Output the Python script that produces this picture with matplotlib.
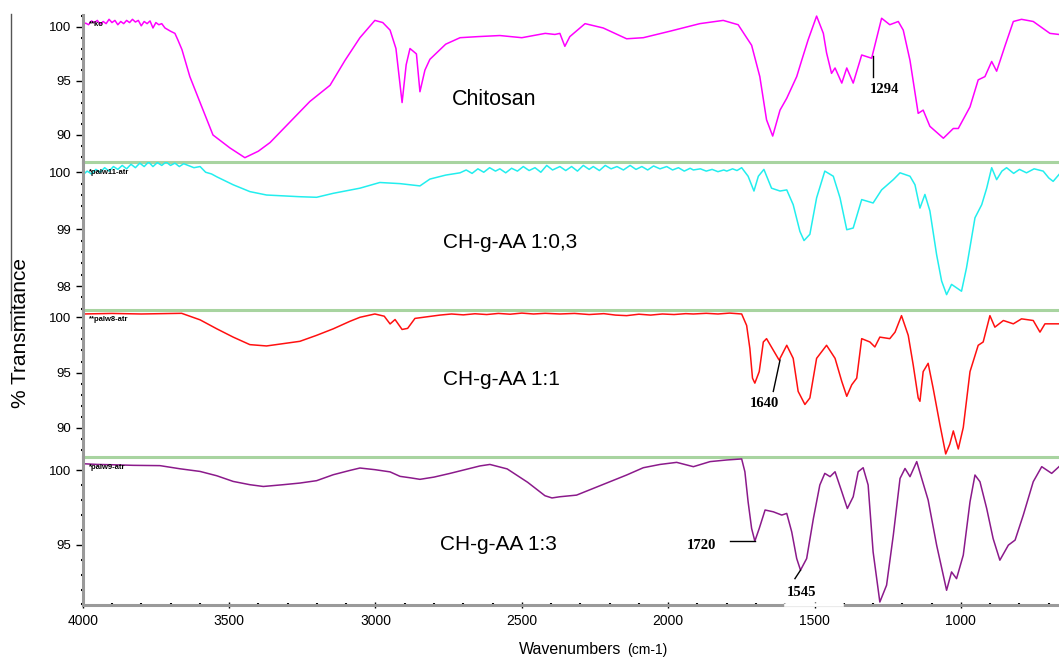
import matplotlib.pyplot as plt
from matplotlib.ticker import MultipleLocator

plt.rcParams['font.family'] = ['Liberation Sans', 'DejaVu Sans']

# Chitosan spectrum (wavenumber cm-1, % transmittance)
chitosan_wn = [4000, 3990, 3980, 3970, 3960, 3950, 3940, 3930, 3920, 3910, 3900, 3890, 3880,
               3870, 3860, 3850, 3840, 3830, 3820, 3810, 3800, 3790, 3780, 3770, 3760, 3750,
               3740, 3730, 3719, 3700, 3685, 3675, 3661, 3634,
               3599, 3555, 3497, 3446, 3400, 3360, 3292, 3224, 3155, 3104, 3070, 3053, 3002,
               2975, 2950, 2930, 2909, 2895, 2882, 2860, 2848, 2831, 2814, 2760, 2711, 2650,
               2575, 2500, 2420, 2387, 2370, 2353, 2336, 2284, 2222, 2142, 2085, 1994, 1892,
               1812, 1761, 1732,
               1715, 1687, 1664, 1643, 1618, 1595, 1561, 1544, 1522, 1493, 1470, 1459, 1442,
               1430, 1407, 1390, 1368, 1339, 1305, 1271, 1243, 1214, 1197, 1174, 1146, 1129,
               1106, 1060, 1026, 1009, 969, 941, 918, 895, 878, 850, 821, 793, 753, 696, 665]
chitosan_t = [100.2, 100.35, 100.2, 100.55, 100.4, 100.6, 100.25, 100.5, 100.3, 100.7, 100.4,
              100.6, 100.2, 100.5, 100.3, 100.6, 100.4, 100.7, 100.45, 100.6, 100.1, 100.5,
              100.3, 100.55, 99.9, 100.4, 100.2, 100.3, 99.9, 99.6, 99.4, 98.8, 97.9, 95.4,
              93.0, 90.0, 88.8, 87.9, 88.5, 89.3, 91.2, 93.1, 94.6, 96.9, 98.3, 99.0, 100.6,
              100.4, 99.7, 98.0, 93.0, 96.5, 98.0, 97.5, 94.0, 96.0, 97.0, 98.4, 99.0, 99.1,
              99.2, 99.0, 99.4, 99.3, 99.4, 98.2, 99.1, 100.3, 99.9, 98.9, 99.0, 99.6, 100.3,
              100.6, 100.2, 99.0,
              98.3, 95.4, 91.4, 89.9, 92.3, 93.4, 95.4, 96.9, 98.8, 101.0, 99.4, 97.6, 95.7,
              96.2, 94.8, 96.2, 94.8, 97.4, 97.1, 100.8, 100.2, 100.5, 99.7, 96.9, 92.0, 92.3,
              90.8, 89.7, 90.6, 90.6, 92.6, 95.1, 95.4, 96.8, 95.9, 98.2, 100.5, 100.7, 100.5, 99.4, 99.3]

# CH-g-AA 1:0,3
aa03_wn = [4000, 3985, 3970, 3955, 3940, 3925, 3910, 3895, 3880, 3865, 3850, 3835, 3820, 3805,
           3790, 3775, 3760, 3745, 3730, 3715, 3700, 3685, 3670, 3655, 3640, 3620, 3599, 3580,
           3560, 3542, 3486, 3429, 3372,
           3300, 3258, 3201, 3144, 3053, 2985, 2916, 2848, 2814, 2760,
           2711, 2690, 2670, 2650, 2630, 2610, 2590, 2575, 2555, 2535, 2515, 2495, 2475, 2455,
           2435, 2415, 2395, 2370, 2350, 2330, 2310, 2290, 2270, 2256, 2235, 2215, 2195, 2175,
           2153, 2130, 2110, 2090, 2070, 2050, 2028, 2005, 1985, 1965, 1945, 1925, 1914, 1890,
           1870, 1850, 1830, 1810, 1800, 1780, 1765,
           1749, 1727, 1707, 1692, 1673, 1647, 1618, 1595, 1573,
           1550, 1536, 1516, 1493, 1465, 1436, 1413, 1390, 1368, 1339, 1300, 1271, 1231, 1208,
           1174, 1157, 1140, 1123, 1106, 1083, 1066, 1049, 1032, 1015, 998, 981, 952, 929, 912,
           895, 878, 860, 844, 820, 800, 776, 750, 719, 700, 685, 665]
aa03_t = [99.95, 100.02, 99.97, 100.05, 100.0, 100.08, 100.02, 100.1, 100.05, 100.12, 100.06,
          100.14, 100.08, 100.16, 100.1, 100.18, 100.1, 100.17, 100.12, 100.18, 100.12, 100.16,
          100.1, 100.15, 100.12, 100.08, 100.1, 100.0, 99.97, 99.92, 99.78, 99.66, 99.60,
          99.58, 99.57, 99.56, 99.63, 99.72, 99.82, 99.80, 99.76, 99.88, 99.95,
          99.99, 100.04, 99.98, 100.06, 100.0, 100.08, 100.02, 100.06, 99.99, 100.07, 100.02,
          100.1, 100.03, 100.08, 100.0, 100.12, 100.04, 100.1, 100.03, 100.1, 100.02, 100.12,
          100.05, 100.1, 100.03, 100.12, 100.06, 100.1, 100.04, 100.12, 100.05, 100.1, 100.04,
          100.11, 100.06, 100.1, 100.04, 100.08, 100.02, 100.07, 100.04, 100.06, 100.02, 100.05,
          100.01, 100.04, 100.02, 100.06, 100.03,
          100.08, 99.93, 99.67, 99.93, 100.05, 99.72, 99.67, 99.69, 99.43,
          98.96, 98.80, 98.91, 99.55, 100.02, 99.93, 99.55, 98.99, 99.02, 99.52, 99.46, 99.69,
          99.87, 99.99, 99.93, 99.78, 99.37, 99.61, 99.32, 98.55, 98.09, 97.85, 98.03, 97.97,
          97.91, 98.32, 99.20, 99.43, 99.72, 100.08, 99.87, 100.02, 100.08, 99.98, 100.05,
          99.99, 100.06, 100.02, 99.9, 99.84, 99.96]

# CH-g-AA 1:1
aa11_wn = [4000, 3900, 3800, 3662, 3599, 3542, 3486, 3429, 3372, 3315, 3258, 3201, 3144, 3087,
           3053, 3002, 2970, 2950, 2933, 2909, 2890, 2865,
           2780, 2740, 2700, 2660, 2620, 2580, 2540, 2500, 2460, 2420, 2370, 2320, 2270, 2220,
           2180, 2142, 2100, 2060, 2020, 1980, 1940, 1914, 1870, 1830, 1790,
           1749, 1732, 1721, 1712, 1704, 1689, 1675, 1664, 1641, 1621, 1595, 1573, 1556, 1533,
           1516, 1493, 1459, 1430, 1407, 1390, 1373, 1356, 1339, 1311, 1294, 1277, 1243, 1225,
           1203, 1180, 1163, 1146, 1140, 1129, 1112, 1095, 1072, 1052, 1038, 1026, 1009, 992,
           969, 941, 924, 901, 884, 855, 821, 793, 753, 730, 713, 665]
aa11_t = [100.3, 100.35, 100.3, 100.36, 99.77, 98.96, 98.21, 97.53, 97.41, 97.62, 97.83, 98.37,
          98.96, 99.64, 100.0, 100.3, 100.1, 99.4, 99.8, 98.9, 99.0, 99.9,
          100.2, 100.3, 100.22, 100.32, 100.25, 100.35, 100.28, 100.38, 100.3, 100.36, 100.3,
          100.35, 100.25, 100.33, 100.2, 100.15, 100.28, 100.2, 100.3, 100.25, 100.33, 100.3,
          100.36, 100.3, 100.38,
          100.3, 99.26, 97.18, 94.5, 94.05, 95.09, 97.77, 98.07, 97.03,
          96.13, 97.47, 96.29, 93.3, 92.12, 92.71, 96.29, 97.47, 96.29, 94.2, 92.86, 93.9, 94.5,
          98.07, 97.77, 97.32, 98.21, 98.07, 98.66, 100.15, 98.37, 95.69, 92.71, 92.41, 95.09,
          95.84, 93.6, 90.33, 87.65, 88.54, 89.73, 88.1, 90.04, 95.09, 97.47, 97.77, 100.15,
          99.11, 99.71, 99.41, 99.86, 99.71, 98.66, 99.41, 99.41]

# CH-g-AA 1:3
aa13_wn = [4000, 3950, 3900, 3827, 3736, 3668, 3599, 3542, 3486, 3429, 3383, 3315, 3258, 3201,
           3144, 3087, 3053, 3002, 2950, 2916, 2880, 2848, 2800, 2745, 2643, 2609, 2550, 2480,
           2421, 2397, 2370, 2313, 2256, 2199, 2142, 2085, 2028, 1971, 1914, 1857, 1800, 1749,
           1738, 1727, 1715, 1704, 1689, 1669, 1641, 1612, 1595, 1578, 1561, 1548, 1527, 1504,
           1482, 1465, 1447, 1430, 1407, 1388, 1368, 1351, 1334, 1317, 1300, 1277, 1254, 1231,
           1208, 1191, 1174, 1151, 1134, 1112, 1083, 1049, 1032, 1015, 992, 969, 952, 935, 912,
           890, 867, 838, 815, 787, 753, 724, 690, 665]
aa13_t = [100.45, 100.4, 100.38, 100.34, 100.32, 100.11, 99.93, 99.64, 99.26, 99.04, 98.92, 99.04,
          99.15, 99.31, 99.71, 100.0, 100.16, 100.05, 99.9, 99.6, 99.5, 99.4, 99.55, 99.8, 100.3,
          100.4, 100.1, 99.2, 98.3, 98.15, 98.23, 98.34, 98.79, 99.24, 99.69, 100.18, 100.40,
          100.54, 100.25, 100.59, 100.70, 100.77, 99.91, 97.89, 96.10, 95.25, 96.10, 97.34, 97.22,
          97.0, 97.11, 95.87, 94.08, 93.30, 94.08, 96.77, 99.02, 99.80, 99.58, 99.91, 98.57, 97.44,
          98.23, 99.91, 100.18, 99.02, 94.53, 91.16, 92.29, 95.65, 99.46, 100.13, 99.58, 100.59,
          99.46, 98.01, 94.98, 91.95, 93.18, 92.73, 94.31, 97.89, 99.69, 99.24, 97.44, 95.42,
          93.97, 94.98, 95.32, 97.0, 99.24, 100.25, 99.80, 100.25]

names = ['Chitosan', 'CH-g-AA 1:0,3', 'CH-g-AA 1:1', 'CH-g-AA 1:3']
file_tags = ['**ko', '*palw11-atr', '**palw8-atr', '*palw9-atr']
series = [(chitosan_wn, chitosan_t), (aa03_wn, aa03_t), (aa11_wn, aa11_t), (aa13_wn, aa13_t)]
colors = ['#ff00ff', '#22eeee', '#ff1010', '#8b1a8b']
ylims = [(87.5, 101.1), (97.58, 100.18), (87.4, 100.66), (90.96, 100.9)]
yticks = [[90, 95, 100], [98, 99, 100], [90, 95, 100], [95, 100]]
yminor = [1, 0.2, 1, 1]
# panel rows in pixels (top, bottom)
rows = [(15, 162), (162, 310), (310, 456.7), (457, 605)]
label_pos = [(2739, 93.24), (2769, 98.76), (2769, 94.35), (2779, 95.0)]
label_size = [15.5, 15, 15, 15]

W, H = 1059, 660
fig = plt.figure(figsize=(W / 100, H / 100), dpi=100)
left = 82.7 / W
spine_gray = '#9a9a9a'
green = '#a8d4a0'

axes = []
for i in range(4):
    top, bot = rows[i]
    ax = fig.add_axes([left, 1 - bot / H, 1 - left, (bot - top) / H])
    wn, t = series[i]
    ax.plot(wn, t, color=colors[i], lw=1.1)
    ax.set_xlim(4000, 665)
    ax.set_ylim(*ylims[i])
    ax.set_yticks(yticks[i])
    ax.yaxis.set_minor_locator(MultipleLocator(yminor[i]))
    ax.tick_params(axis='y', which='major', direction='out', length=5, width=1,
                   color='black', labelsize=9.5, pad=3)
    ax.tick_params(axis='y', which='minor', direction='inout', length=2.5, width=1.5, color='black')
    ax.spines['top'].set_visible(False)
    ax.spines['right'].set_visible(False)
    ax.spines['left'].set_color(spine_gray)
    ax.spines['left'].set_linewidth(2.2)
    if i < 3:
        ax.spines['bottom'].set_color(green)
        ax.spines['bottom'].set_linewidth(2.2)
        ax.tick_params(axis='x', which='both', bottom=False, labelbottom=False)
    else:
        ax.spines['bottom'].set_color(spine_gray)
        ax.spines['bottom'].set_linewidth(2.2)
        ax.set_xticks([4000, 3500, 3000, 2500, 2000, 1500, 1000])
        ax.xaxis.set_minor_locator(MultipleLocator(100))
        ax.tick_params(axis='x', which='major', direction='inout', length=5, width=1,
                       color='black', labelsize=10, pad=4)
        ax.tick_params(axis='x', which='minor', direction='inout', length=2.5, width=1.5,
                       color='black')
    ax.set_facecolor('none')
    ax.text(label_pos[i][0], label_pos[i][1], names[i], fontsize=label_size[i],
            ha='left', va='center')
    ax.text(0.006, 0.932, file_tags[i], transform=ax.transAxes, fontsize=5.5,
            fontweight='bold', ha='left', va='center')
    axes.append(ax)

ax1, ax2, ax3, ax4 = axes
serif = dict(family=['Liberation Serif', 'DejaVu Serif'], fontweight='bold', fontsize=10.5)

# peak annotations
ax1.plot([1302, 1302], [97.3, 95.4], color='black', lw=1)
ax1.text(1310, 94.17, '1294', ha='left', va='center', **serif)
ax3.plot([1641, 1618], [93.3, 96.13], color='black', lw=1)
ax3.text(1673, 92.2, '1640', ha='center', va='center', **serif)
ax4.plot([1789, 1704], [95.25, 95.25], color='black', lw=1)
ax4.text(1888, 94.93, '1720', ha='center', va='center', **serif)
ax4.plot([1567, 1548], [92.73, 93.30], color='black', lw=1)
ax4.text(1543, 91.77, '1545', ha='center', va='center', **serif)
# gap in the axis line under the 1545 label
ax4.plot([1598, 1406], [90.96, 90.96], color='white', lw=2.6, clip_on=False, zorder=2.6)

# axis titles
fig.text(21 / W, 1 - 333 / H, '% Transmitance', rotation=90, fontsize=15,
         ha='center', va='center')
fig.add_artist(plt.Line2D([11 / W, 11 / W], [1 - 14 / H, 1 - 330 / H], color='#555555', lw=1))
fig.text(621 / W, 1 - 654 / H, 'Wavenumbers', fontsize=11.5, ha='right', va='baseline')
fig.text(627 / W, 1 - 654 / H, '(cm-1)', fontsize=10, ha='left', va='baseline')

fig.savefig('out.png', dpi=100)
